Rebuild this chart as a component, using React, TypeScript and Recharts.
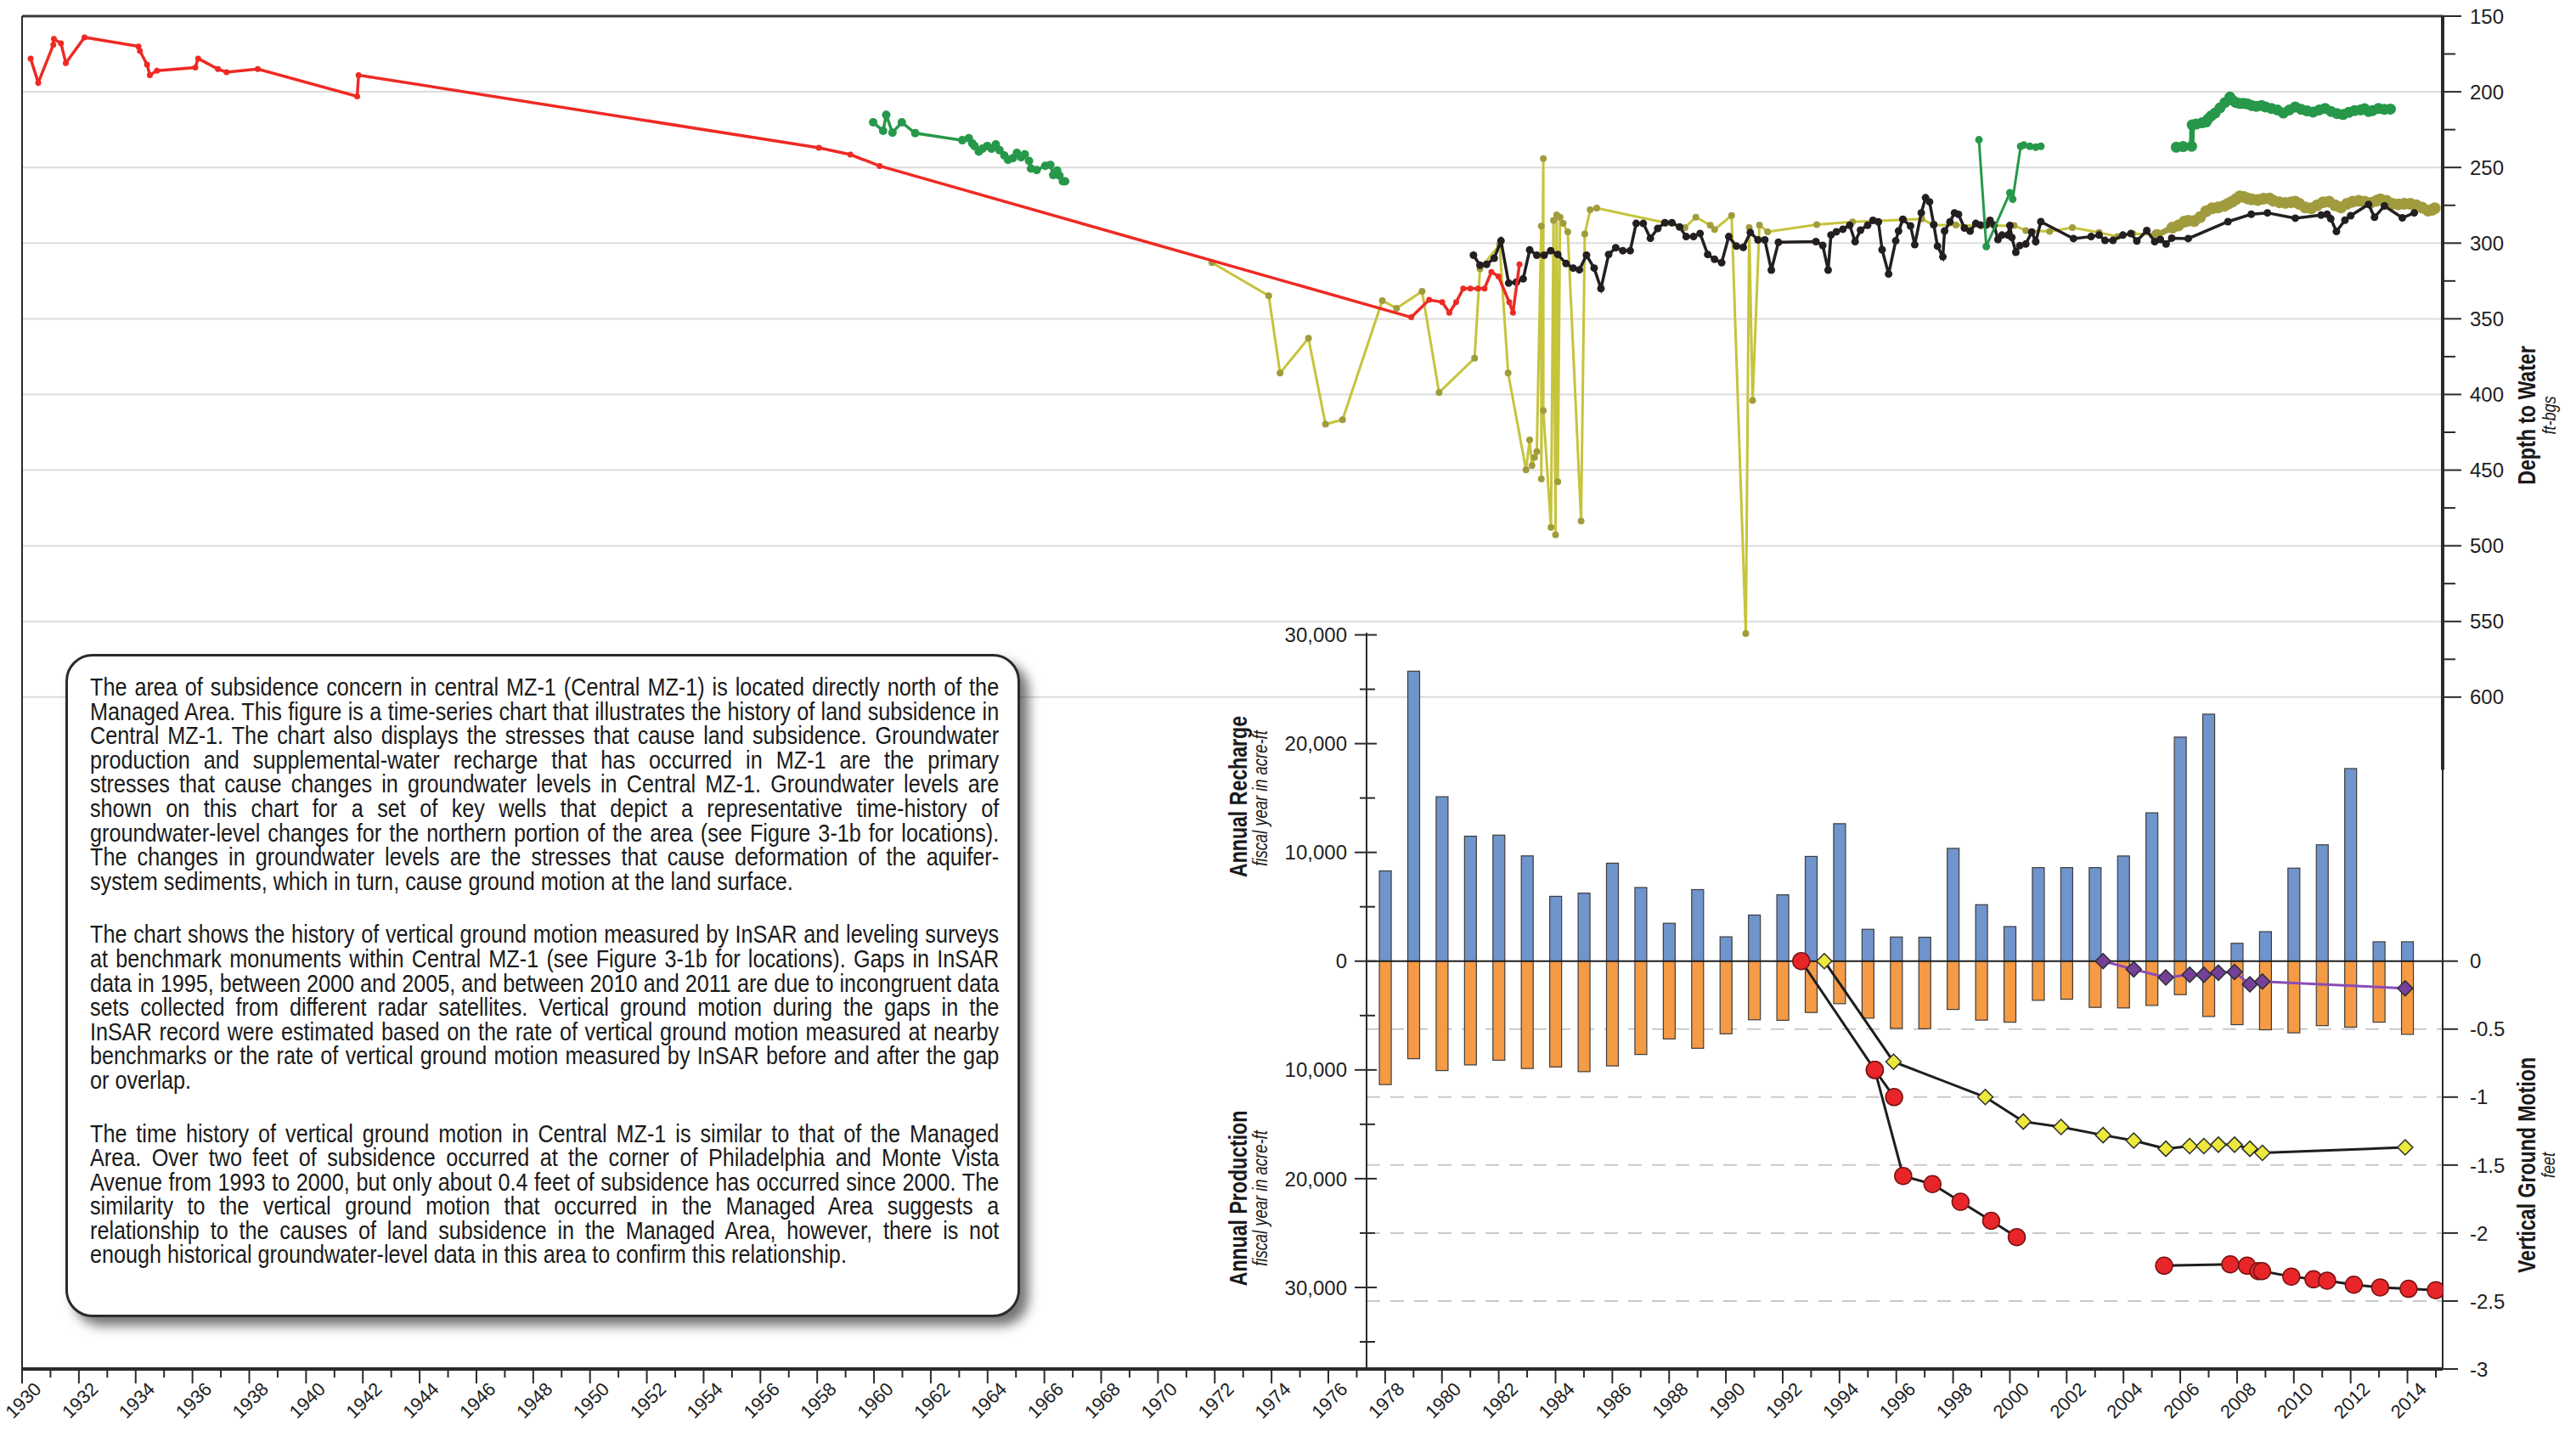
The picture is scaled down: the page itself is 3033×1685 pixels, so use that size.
import React from 'react'
import {
  ComposedChart, Scatter, Bar, XAxis, YAxis, CartesianGrid, ReferenceLine,
} from 'recharts'

const W = 3033
const H = 1685
const FONT = '"Liberation Sans", Arial, Helvetica, sans-serif'

// x range (years) of the whole figure and of the lower panel
const YEAR_MIN = 1930
const YEAR_MAX = 2015.24
const LOWER_YEAR_MIN = 1977.34

const yearTicks = Array.from({ length: 86 }, (_, i) => 1930 + i)
const depthTicks = [150, 175, 200, 225, 250, 275, 300, 325, 350, 375, 400, 425, 450, 475, 500, 525, 550, 575, 600]
const depthGrid = [200, 250, 300, 350, 400, 450, 500, 550, 600]
const rechargeTicks = [30000, 25000, 20000, 15000, 10000, 5000, 0, -5000, -10000, -15000, -20000, -25000, -30000, -35000]
const motionTicks = [0, -0.5, -1, -1.5, -2, -2.5, -3]
const motionGrid = [-0.5, -1, -1.5, -2, -2.5]

// depth to water, ft-bgs  [year, depth]
const redWell: [number, number][] = [
  [1930.3, 178], [1930.57, 194], [1931.1, 169], [1931.12, 165], [1931.37, 168], [1931.54, 181],
  [1932.2, 164], [1934.1, 170], [1934.15, 173], [1934.4, 182], [1934.5, 189], [1934.75, 186],
  [1936.1, 184], [1936.2, 178], [1936.9, 185], [1937.2, 187], [1938.3, 185], [1941.8, 203],
  [1941.85, 189], [1958.06, 237], [1959.17, 241.5], [1960.2, 249], [1978.92, 349], [1979.55, 337.5],
  [1980.01, 339], [1980.26, 346], [1980.5, 339], [1980.75, 330], [1981.0, 330], [1981.27, 330],
  [1981.5, 330], [1981.74, 319], [1981.99, 322], [1982.37, 339], [1982.5, 346], [1982.73, 314],
]

const greenWellA: [number, number][] = [
  [1959.97, 220.2], [1960.32, 225.8], [1960.43, 215.3], [1960.65, 227], [1960.98, 220.2], [1961.45, 227.3],
  [1963.11, 232], [1963.34, 230.7], [1963.46, 234], [1963.54, 235.8], [1963.69, 239.5], [1963.82, 237.6],
  [1963.99, 235.8], [1964.14, 237.6], [1964.29, 234.8], [1964.42, 238.6], [1964.59, 242], [1964.72, 245],
  [1964.89, 243.8], [1965.03, 240.4], [1965.18, 243.3], [1965.31, 241.4], [1965.46, 245.7], [1965.53, 250.7],
  [1965.73, 251.7], [1966.03, 248.9], [1966.21, 248.3], [1966.31, 255], [1966.45, 252], [1966.53, 255.4],
  [1966.65, 259.2], [1966.73, 259.2],
]

const greenWellB: [number, number][] = [
  [1998.91, 231.7], [1999.17, 302.2], [2000.0, 266.7], [2000.1, 271], [2000.38, 236], [2000.49, 235.2],
  [2000.7, 236], [2000.91, 236.6], [2001.09, 236],
]

const greenWellC: [number, number][] = [
  [2005.86, 236.6], [2006.1, 236.2], [2006.4, 236], [2006.42, 221.9], [2006.56, 221.3], [2006.77, 220.5],
  [2006.91, 219.9], [2006.98, 217.9], [2007.09, 215.9], [2007.23, 214], [2007.4, 210.6], [2007.57, 207.1],
  [2007.75, 203.5], [2007.85, 205.7], [2007.96, 207.1], [2008.1, 207.7], [2008.24, 207.7], [2008.38, 208.1],
  [2008.52, 209.1], [2008.68, 209.6], [2008.86, 209.1], [2009.0, 210], [2009.21, 211], [2009.42, 212],
  [2009.63, 214], [2009.84, 212], [2010.05, 210], [2010.26, 211.6], [2010.47, 212.6], [2010.68, 213.4],
  [2010.89, 212], [2011.1, 211], [2011.31, 213], [2011.52, 214.4], [2011.73, 215], [2011.93, 213.6],
  [2012.14, 212.4], [2012.35, 212], [2012.49, 211.2], [2012.63, 213], [2012.77, 212.4], [2012.98, 211],
  [2013.19, 211.6], [2013.4, 211.4],
]

const oliveWell: [number, number][] = [
  [1971.9, 312.9], [1973.9, 334.8], [1974.3, 385.8], [1975.3, 362.9], [1975.9, 419.7], [1976.5, 416.7],
  [1977.9, 338], [1978.4, 343], [1979.3, 331.8], [1979.9, 398.7], [1981.15, 376], [1981.34, 317],
  [1982.03, 301], [1982.33, 385.8], [1982.96, 449.8], [1983.09, 430], [1983.17, 447], [1983.26, 441.6],
  [1983.34, 437.8], [1983.5, 288.8], [1983.5, 455.8], [1983.57, 244.2], [1983.57, 410.7], [1983.84, 487.8],
  [1983.93, 285], [1984.0, 492.7], [1984.04, 281.3], [1984.08, 457.7], [1984.16, 282.8], [1984.27, 287],
  [1984.43, 292.5], [1984.9, 483.7], [1985.03, 294], [1985.22, 278], [1985.45, 276.8], [1987.9, 286.7],
  [1988.56, 289.7], [1988.94, 282.8], [1989.45, 288.2], [1989.6, 291], [1990.2, 281.8], [1990.7, 558],
  [1990.82, 289.7], [1990.94, 404], [1991.18, 288], [1991.47, 292.5], [1993.2, 287.8], [1994.46, 286],
  [1996.27, 284.5], [1996.9, 284], [1997.3, 288], [1998.1, 288], [1999.0, 288.6], [2000.15, 288.4],
  [2000.56, 291.7], [2001.4, 292.3], [2002.2, 289.8], [2003.14, 293], [2003.8, 295.7], [2004.33, 293.7],
  [2005.17, 294.7],
]

const oliveWellDense: [number, number][] = [
  [2005.17, 294.7], [2005.72, 289.8], [2005.93, 288.4], [2006.14, 285.8], [2006.28, 285.2], [2006.49, 285.4],
  [2006.7, 282.9], [2006.91, 278.9], [2007.12, 277], [2007.33, 276.4], [2007.54, 275.4], [2007.68, 274],
  [2007.82, 272.6], [2007.96, 271], [2008.1, 269.1], [2008.24, 269.5], [2008.38, 270.5], [2008.52, 271.1],
  [2008.73, 271.5], [2008.93, 270.7], [2009.14, 270.5], [2009.28, 272], [2009.49, 273], [2009.7, 273.4],
  [2009.91, 273], [2010.05, 272.6], [2010.19, 274], [2010.4, 276.4], [2010.61, 277], [2010.82, 275],
  [2011.03, 273], [2011.24, 272.6], [2011.45, 275], [2011.66, 276.4], [2011.87, 274], [2012.07, 272.6],
  [2012.28, 272], [2012.49, 272.6], [2012.7, 273.4], [2012.91, 272], [2013.05, 271.1], [2013.26, 272],
  [2013.47, 274], [2013.68, 274.4], [2013.89, 274], [2014.1, 274], [2014.31, 275], [2014.52, 276.6],
  [2014.73, 278.5], [2014.87, 278], [2014.96, 277],
]

const blackWell: [number, number][] = [
  [1981.11, 308], [1981.34, 314.6], [1981.57, 314], [1981.84, 310], [1982.08, 298.5], [1982.35, 326.4],
  [1982.62, 325.8], [1982.86, 323.6], [1983.09, 304.5], [1983.34, 308], [1983.6, 308], [1983.83, 305],
  [1984.08, 307.5], [1984.37, 313.5], [1984.62, 316.5], [1984.84, 317.6], [1985.09, 308], [1985.36, 316.5],
  [1985.6, 330], [1985.87, 307.5], [1986.12, 303], [1986.37, 305], [1986.63, 305], [1986.84, 287],
  [1987.09, 287], [1987.34, 296.8], [1987.6, 290.3], [1987.85, 286.5], [1988.1, 286.5], [1988.37, 289.3],
  [1988.6, 295.7], [1988.86, 295.7], [1989.09, 293.6], [1989.36, 307.5], [1989.6, 310.7], [1989.85, 312.9],
  [1990.1, 295.7], [1990.37, 302], [1990.61, 302.8], [1990.86, 293], [1991.13, 297.9], [1991.37, 297.9],
  [1991.6, 317.8], [1991.85, 299.4], [1993.17, 299], [1993.41, 301.5], [1993.6, 317.8], [1993.7, 294.6],
  [1993.89, 292.5], [1994.12, 290.8], [1994.36, 288.2], [1994.55, 299], [1994.74, 291.4], [1994.99, 288.2],
  [1995.18, 285], [1995.37, 286], [1995.5, 304.3], [1995.73, 320.4], [1995.98, 298.5], [1996.08, 292],
  [1996.23, 284.3], [1996.5, 288.6], [1996.65, 301], [1996.88, 280], [1997.03, 270], [1997.17, 272.7],
  [1997.32, 287.8], [1997.45, 302], [1997.64, 309], [1997.7, 292], [1997.89, 286], [1998.05, 280],
  [1998.19, 281], [1998.4, 290], [1998.6, 292], [1998.8, 287], [1998.96, 288], [1999.17, 288],
  [1999.3, 285], [1999.44, 288], [1999.58, 297.6], [1999.72, 294.7], [1999.93, 294.7], [2000.0, 288.4],
  [2000.07, 296.3], [2000.21, 306], [2000.35, 301.6], [2000.56, 300.6], [2000.77, 292.7], [2000.91, 299],
  [2001.09, 285.8], [2002.24, 297], [2002.86, 295.7], [2003.14, 294.7], [2003.35, 298.2], [2003.63, 298.2],
  [2003.98, 294.7], [2004.26, 293.7], [2004.47, 298.6], [2004.82, 291.7], [2005.1, 299], [2005.3, 297.6],
  [2005.5, 300.6], [2005.7, 296.7], [2006.28, 297], [2007.68, 285.8], [2008.5, 280.9], [2009.07, 280],
  [2010.05, 283.5], [2010.96, 281.5], [2011.17, 280.9], [2011.3, 283.9], [2011.5, 292.3], [2011.8, 284.8],
  [2012.0, 281.9], [2012.63, 274.4], [2012.84, 282.9], [2013.19, 275.4], [2013.82, 283.3], [2014.24, 280],
]

// annual recharge and production, acre-ft (fiscal year)
const barYears = [
  1978, 1979, 1980, 1981, 1982, 1983, 1984, 1985, 1986, 1987, 1988, 1989, 1990, 1991, 1992, 1993, 1994, 1995, 1996,
  1997, 1998, 1999, 2000, 2001, 2002, 2003, 2004, 2005, 2006, 2007, 2008, 2009, 2010, 2011, 2012, 2013, 2014,
]
const recharge = [
  8300, 26660, 15120, 11490, 11590, 9680, 5960, 6250, 9010, 6770, 3480, 6580, 2240, 4240, 6100, 9630, 12640, 2930, 2220,
  2200, 10370, 5190, 3180, 8600, 8600, 8600, 9670, 13640, 20600, 22710, 1640, 2710, 8550, 10700, 17710, 1780, 1780,
]
const production = [
  -11350, -8970, -10060, -9540, -9110, -9870, -9730, -10160, -9630, -8580, -7150, -8010, -6680, -5390, -5440, -4720, -3910, -5240, -6180,
  -6210, -4440, -5420, -5610, -3600, -3500, -4250, -4300, -4070, -3080, -5090, -5840, -6310, -6590, -5930, -6070, -5610, -6730,
]

// vertical ground motion, feet  [year, motion]
const benchRedA: [number, number][] = [[1992.65, 0], [1995.24, -0.8], [1995.92, -1.0]]
const benchRedB: [number, number][] = [
  [1995.24, -0.8], [1996.24, -1.58], [1997.27, -1.64], [1998.26, -1.77], [1999.34, -1.91], [2000.24, -2.03],
]
const benchRedC: [number, number][] = [
  [2005.43, -2.24], [2007.76, -2.23], [2008.35, -2.24], [2008.75, -2.28], [2008.88, -2.28], [2009.91, -2.32],
  [2010.69, -2.34], [2011.17, -2.35], [2012.11, -2.38], [2013.04, -2.4], [2014.04, -2.41], [2015.0, -2.42],
]
const benchYellow: [number, number][] = [
  [1993.46, 0], [1995.9, -0.74], [1999.13, -1.0], [2000.47, -1.18], [2001.8, -1.22], [2003.28, -1.28],
  [2004.36, -1.32], [2005.49, -1.38], [2006.33, -1.36], [2006.83, -1.36], [2007.34, -1.35], [2007.91, -1.35],
  [2008.45, -1.38], [2008.89, -1.41], [2013.92, -1.37],
]
const benchPurple: [number, number][] = [
  [2003.28, 0], [2004.36, -0.06], [2005.49, -0.12], [2006.33, -0.1], [2006.83, -0.1], [2007.34, -0.085],
  [2007.91, -0.08], [2008.45, -0.17], [2008.89, -0.15], [2013.92, -0.2],
]

const paragraphs = [
  'The area of subsidence concern in central MZ-1 (Central MZ-1) is located directly north of the Managed Area. This figure is a time-series chart that illustrates the history of land subsidence in Central MZ-1. The chart also displays the stresses that cause land subsidence. Groundwater production and supplemental-water recharge that has occurred in MZ-1 are the primary stresses that cause changes in groundwater levels in Central MZ-1. Groundwater levels are shown on this chart for a set of key wells that depict a representative time-history of groundwater-level changes for the northern portion of the area (see Figure 3-1b for locations). The changes in groundwater levels are the stresses that cause deformation of the aquifer-system sediments, which in turn, cause ground motion at the land surface.',
  'The chart shows the history of vertical ground motion measured by InSAR and leveling surveys at benchmark monuments within Central MZ-1 (see Figure 3-1b for locations). Gaps in InSAR data in 1995, between 2000 and 2005, and between 2010 and 2011 are due to incongruent data sets collected from different radar satellites. Vertical ground motion during the gaps in the InSAR record were estimated based on the rate of vertical ground motion measured at nearby benchmarks or the rate of vertical ground motion measured by InSAR before and after the gap or overlap.',
  'The time history of vertical ground motion in Central MZ-1 is similar to that of the Managed Area. Over two feet of subsidence occurred at the corner of Philadelphia and Monte Vista Avenue from 1993 to 2000, but only about 0.4 feet of subsidence has occurred since 2000. The similarity to the vertical ground motion that occurred in the Managed Area suggests a relationship to the causes of land subsidence in the Managed Area, however, there is not enough historical groundwater-level data in this area to confirm this relationship.',
]

const toXY = (pts: [number, number][]) => pts.map(([x, y]) => ({ x, y }))

const barData = barYears.map((x, i) => ({ x, recharge: recharge[i], production: production[i] }))

const dot = (r: number, fill: string, stroke = 'none', sw = 0) => (p: any) =>
  p.cx == null ? <g /> : <circle cx={p.cx} cy={p.cy} r={r} fill={fill} stroke={stroke} strokeWidth={sw} />

const diamond = (s: number, fill: string) => (p: any) =>
  p.cx == null ? <g /> : (
    <polygon
      points={`${p.cx},${p.cy - s} ${p.cx + s},${p.cy} ${p.cx},${p.cy + s} ${p.cx - s},${p.cy}`}
      fill={fill}
      stroke="#2d2d2d"
      strokeWidth={1.5}
    />
  )

// bars keep the library's x centre and y extent, drawn 14px wide
const barShape = (fill: string) => (p: any) => {
  if (p.x == null || p.height == null) return <g />
  const cx = p.x + (p.width || 0) / 2
  const top = Math.min(p.y, p.y + p.height)
  return <rect x={cx - 7} y={top} width={14} height={Math.abs(p.height)} fill={fill} stroke="#3d3d3d" strokeWidth={1.2} />
}

function series(id: string, pts: [number, number][], color: string, width: number, shape: any, yAxisId?: string) {
  return (
    <Scatter
      key={id}
      name={id}
      data={toXY(pts)}
      yAxisId={yAxisId}
      line={{ stroke: color, strokeWidth: width }}
      lineType="joint"
      fill={color}
      shape={shape}
      isAnimationActive={false}
    />
  )
}

function YearTick(props: any) {
  const { x, y, payload } = props
  const v = payload.value
  const major = v % 2 === 0
  return (
    <g>
      <line x1={x} y1={y} x2={x} y2={y + (major ? 17 : 10)} stroke="#2a2a2a" strokeWidth={2} />
      {major && (
        <text
          x={x + 24}
          y={y + 25}
          transform={`rotate(-45, ${x + 24}, ${y + 25})`}
          textAnchor="end"
          fontSize={22}
          fontFamily={FONT}
          fill="#1e1e1e"
        >
          {v}
        </text>
      )}
    </g>
  )
}

function DepthTick(props: any) {
  const { x, y, payload } = props
  const v = payload.value
  const major = v % 50 === 0
  return (
    <g>
      <line x1={x} x2={x + (major ? 22 : 15)} y1={y} y2={y} stroke="#2a2a2a" strokeWidth={2} />
      {major && (
        <text x={x + 32} y={y} dy="0.36em" fontSize={24} fontFamily={FONT} fill="#1e1e1e">
          {v}
        </text>
      )}
    </g>
  )
}

function RechargeTick(props: any) {
  const { x, y, payload } = props
  const v = payload.value
  const major = v % 10000 === 0
  return (
    <g>
      <line x1={x - (major ? 14 : 8)} x2={x + (major ? 12 : 10)} y1={y} y2={y} stroke="#2a2a2a" strokeWidth={2} />
      {major && (
        <text x={x - 23} y={y} dy="0.36em" textAnchor="end" fontSize={24} fontFamily={FONT} fill="#1e1e1e">
          {Math.abs(v).toLocaleString('en-US')}
        </text>
      )}
    </g>
  )
}

function MotionTick(props: any) {
  const { x, y, payload } = props
  return (
    <g>
      <line x1={x} x2={x + 18} y1={y} y2={y} stroke="#2a2a2a" strokeWidth={2} />
      <text x={x + 32} y={y} dy="0.36em" fontSize={24} fontFamily={FONT} fill="#1e1e1e">
        {payload.value}
      </text>
    </g>
  )
}

function VLabel({ x, y, text, bold, italic, size, squeeze = 0.82 }: any) {
  return (
    <div
      style={{
        position: 'absolute',
        left: x,
        top: y,
        transform: `translate(-50%, -50%) rotate(-90deg) scaleX(${squeeze})`,
        whiteSpace: 'nowrap',
        fontFamily: FONT,
        fontWeight: bold ? 700 : 400,
        fontStyle: italic ? 'italic' : 'normal',
        fontSize: size,
        color: '#1a1a1a',
        lineHeight: 1,
      }}
    >
      {text}
    </div>
  )
}

export default function App() {
  return (
    <div style={{ position: 'absolute', left: 0, top: 0, width: W, height: H, background: '#fff', overflow: 'hidden' }}>
      {/* depth to water panel, full figure */}
      <div style={{ position: 'absolute', left: 0, top: 0 }}>
        <ComposedChart width={W} height={H} margin={{ top: 19, right: 77, left: 26, bottom: 0 }}>
          <CartesianGrid vertical={false} horizontalValues={depthGrid} stroke="#dcdcdc" strokeWidth={2} />
          <XAxis
            dataKey="x"
            type="number"
            domain={[YEAR_MIN, YEAR_MAX]}
            allowDataOverflow
            ticks={yearTicks}
            interval={0}
            height={73}
            tickSize={0}
            tickMargin={0}
            tick={<YearTick />}
            axisLine={{ stroke: '#2a2a2a', strokeWidth: 4 }}
          />
          <YAxis
            dataKey="y"
            orientation="right"
            type="number"
            reversed
            domain={[150, 1044]}
            allowDataOverflow
            ticks={depthTicks}
            interval={0}
            width={80}
            tickSize={0}
            tickMargin={0}
            tick={<DepthTick />}
            axisLine={false}
          />
          <ReferenceLine y={150} stroke="#3a3a3a" strokeWidth={3} />
          <ReferenceLine x={YEAR_MIN} stroke="#2a2a2a" strokeWidth={2} />
          <ReferenceLine
            segment={[{ x: YEAR_MAX, y: 150 }, { x: YEAR_MAX, y: 648 }]}
            stroke="#2a2a2a"
            strokeWidth={4}
            ifOverflow="visible"
          />
          {series('olive', oliveWell, '#c6c43c', 3, dot(4, '#a09c3e'))}
          {series('oliveDense', oliveWellDense, '#a09c3e', 7, dot(7, '#a09c3e'))}
          {series('black', blackWell, '#231f20', 3.5, dot(4.5, '#231f20'))}
          {series('red', redWell, '#ee2a24', 3.5, dot(3.5, '#ee2a24'))}
          {series('greenA', greenWellA, '#27984a', 3.5, dot(5, '#27984a'))}
          {series('greenB', greenWellB, '#27984a', 3, dot(4.5, '#27984a'))}
          {series('greenC', greenWellC, '#27984a', 6.5, dot(6.5, '#27984a'))}
        </ComposedChart>
      </div>

      {/* recharge / production / ground motion panel */}
      <div style={{ position: 'absolute', left: 0, top: 0 }}>
        <ComposedChart
          width={W}
          height={H}
          data={barData}
          stackOffset="sign"
          margin={{ top: 745, right: 77, left: 1609 - 130, bottom: 0 }}
        >
          <CartesianGrid vertical={false} horizontalValues={motionGrid} stroke="#c9c9c9" strokeWidth={2} strokeDasharray="16 12" />
          <XAxis
            dataKey="x"
            type="number"
            domain={[LOWER_YEAR_MIN, YEAR_MAX]}
            allowDataOverflow
            height={73}
            tick={false}
            tickLine={false}
            axisLine={false}
          />
          <YAxis
            dataKey="y"
            orientation="right"
            type="number"
            domain={[-3, 2.4156]}
            allowDataOverflow
            ticks={motionTicks}
            interval={0}
            width={80}
            tickSize={0}
            tickMargin={0}
            tick={<MotionTick />}
            axisLine={{ stroke: '#2a2a2a', strokeWidth: 2 }}
          />
          <YAxis
            yAxisId="rech"
            orientation="left"
            type="number"
            domain={[-37500, 30200]}
            allowDataOverflow
            ticks={rechargeTicks}
            interval={0}
            width={130}
            tickSize={0}
            tickMargin={0}
            tick={<RechargeTick />}
            axisLine={{ stroke: '#2a2a2a', strokeWidth: 2 }}
          />
          <Bar yAxisId="rech" dataKey="recharge" stackId="s" fill="#7094cc" shape={barShape('#7094cc')} isAnimationActive={false} />
          <Bar yAxisId="rech" dataKey="production" stackId="s" fill="#f59a45" shape={barShape('#f59a45')} isAnimationActive={false} />
          <ReferenceLine yAxisId="rech" y={0} stroke="#1e1e1e" strokeWidth={2} />
          {series('gmRedA', benchRedA, '#1e1e1e', 3, dot(10, '#e8262a', '#7a1212', 1.5))}
          {series('gmRedB', benchRedB, '#1e1e1e', 3, dot(10, '#e8262a', '#7a1212', 1.5))}
          {series('gmRedC', benchRedC, '#1e1e1e', 3, dot(10, '#e8262a', '#7a1212', 1.5))}
          {series('gmYellow', benchYellow, '#1e1e1e', 3, diamond(9, '#ece83c'))}
          {series('gmPurple', benchPurple, '#8a4cb6', 3, diamond(9, '#74409a'))}
        </ComposedChart>
      </div>

      <VLabel x={2975} y={489} text="Depth to Water" bold size={30} squeeze={0.77} />
      <VLabel x={3002} y={489} text="ft-bgs" italic size={22} />
      <VLabel x={2975} y={1372} text="Vertical Ground Motion" bold size={30} squeeze={0.77} />
      <VLabel x={3001} y={1372} text="feet" italic size={22} />
      <VLabel x={1458} y={938} text="Annual Recharge" bold size={30} squeeze={0.77} />
      <VLabel x={1484} y={940} text="fiscal year in acre-ft" italic size={23} squeeze={0.8} />
      <VLabel x={1458} y={1411} text="Annual Production" bold size={30} squeeze={0.77} />
      <VLabel x={1484} y={1411} text="fiscal year in acre-ft" italic size={23} squeeze={0.8} />

      <div
        style={{
          position: 'absolute',
          left: 77,
          top: 770,
          width: 1124,
          height: 781,
          boxSizing: 'border-box',
          border: '3px solid #2b2b2b',
          borderRadius: 32,
          background: '#fff',
          boxShadow: '10px 10px 14px rgba(0,0,0,0.55)',
          padding: '22px 26px 0 26px',
          overflow: 'hidden',
        }}
      >
        <div
          style={{
            width: 1274,
            transform: 'scaleX(0.84)',
            transformOrigin: 'left top',
            fontFamily: FONT,
            fontSize: 30,
            lineHeight: '28.6px',
            color: '#1a1a1a',
            textAlign: 'justify',
          }}
        >
          {paragraphs.map((p, i) => (
            <p key={i} style={{ margin: i === 0 ? 0 : '34px 0 0 0' }}>{p}</p>
          ))}
        </div>
      </div>
    </div>
  )
}
